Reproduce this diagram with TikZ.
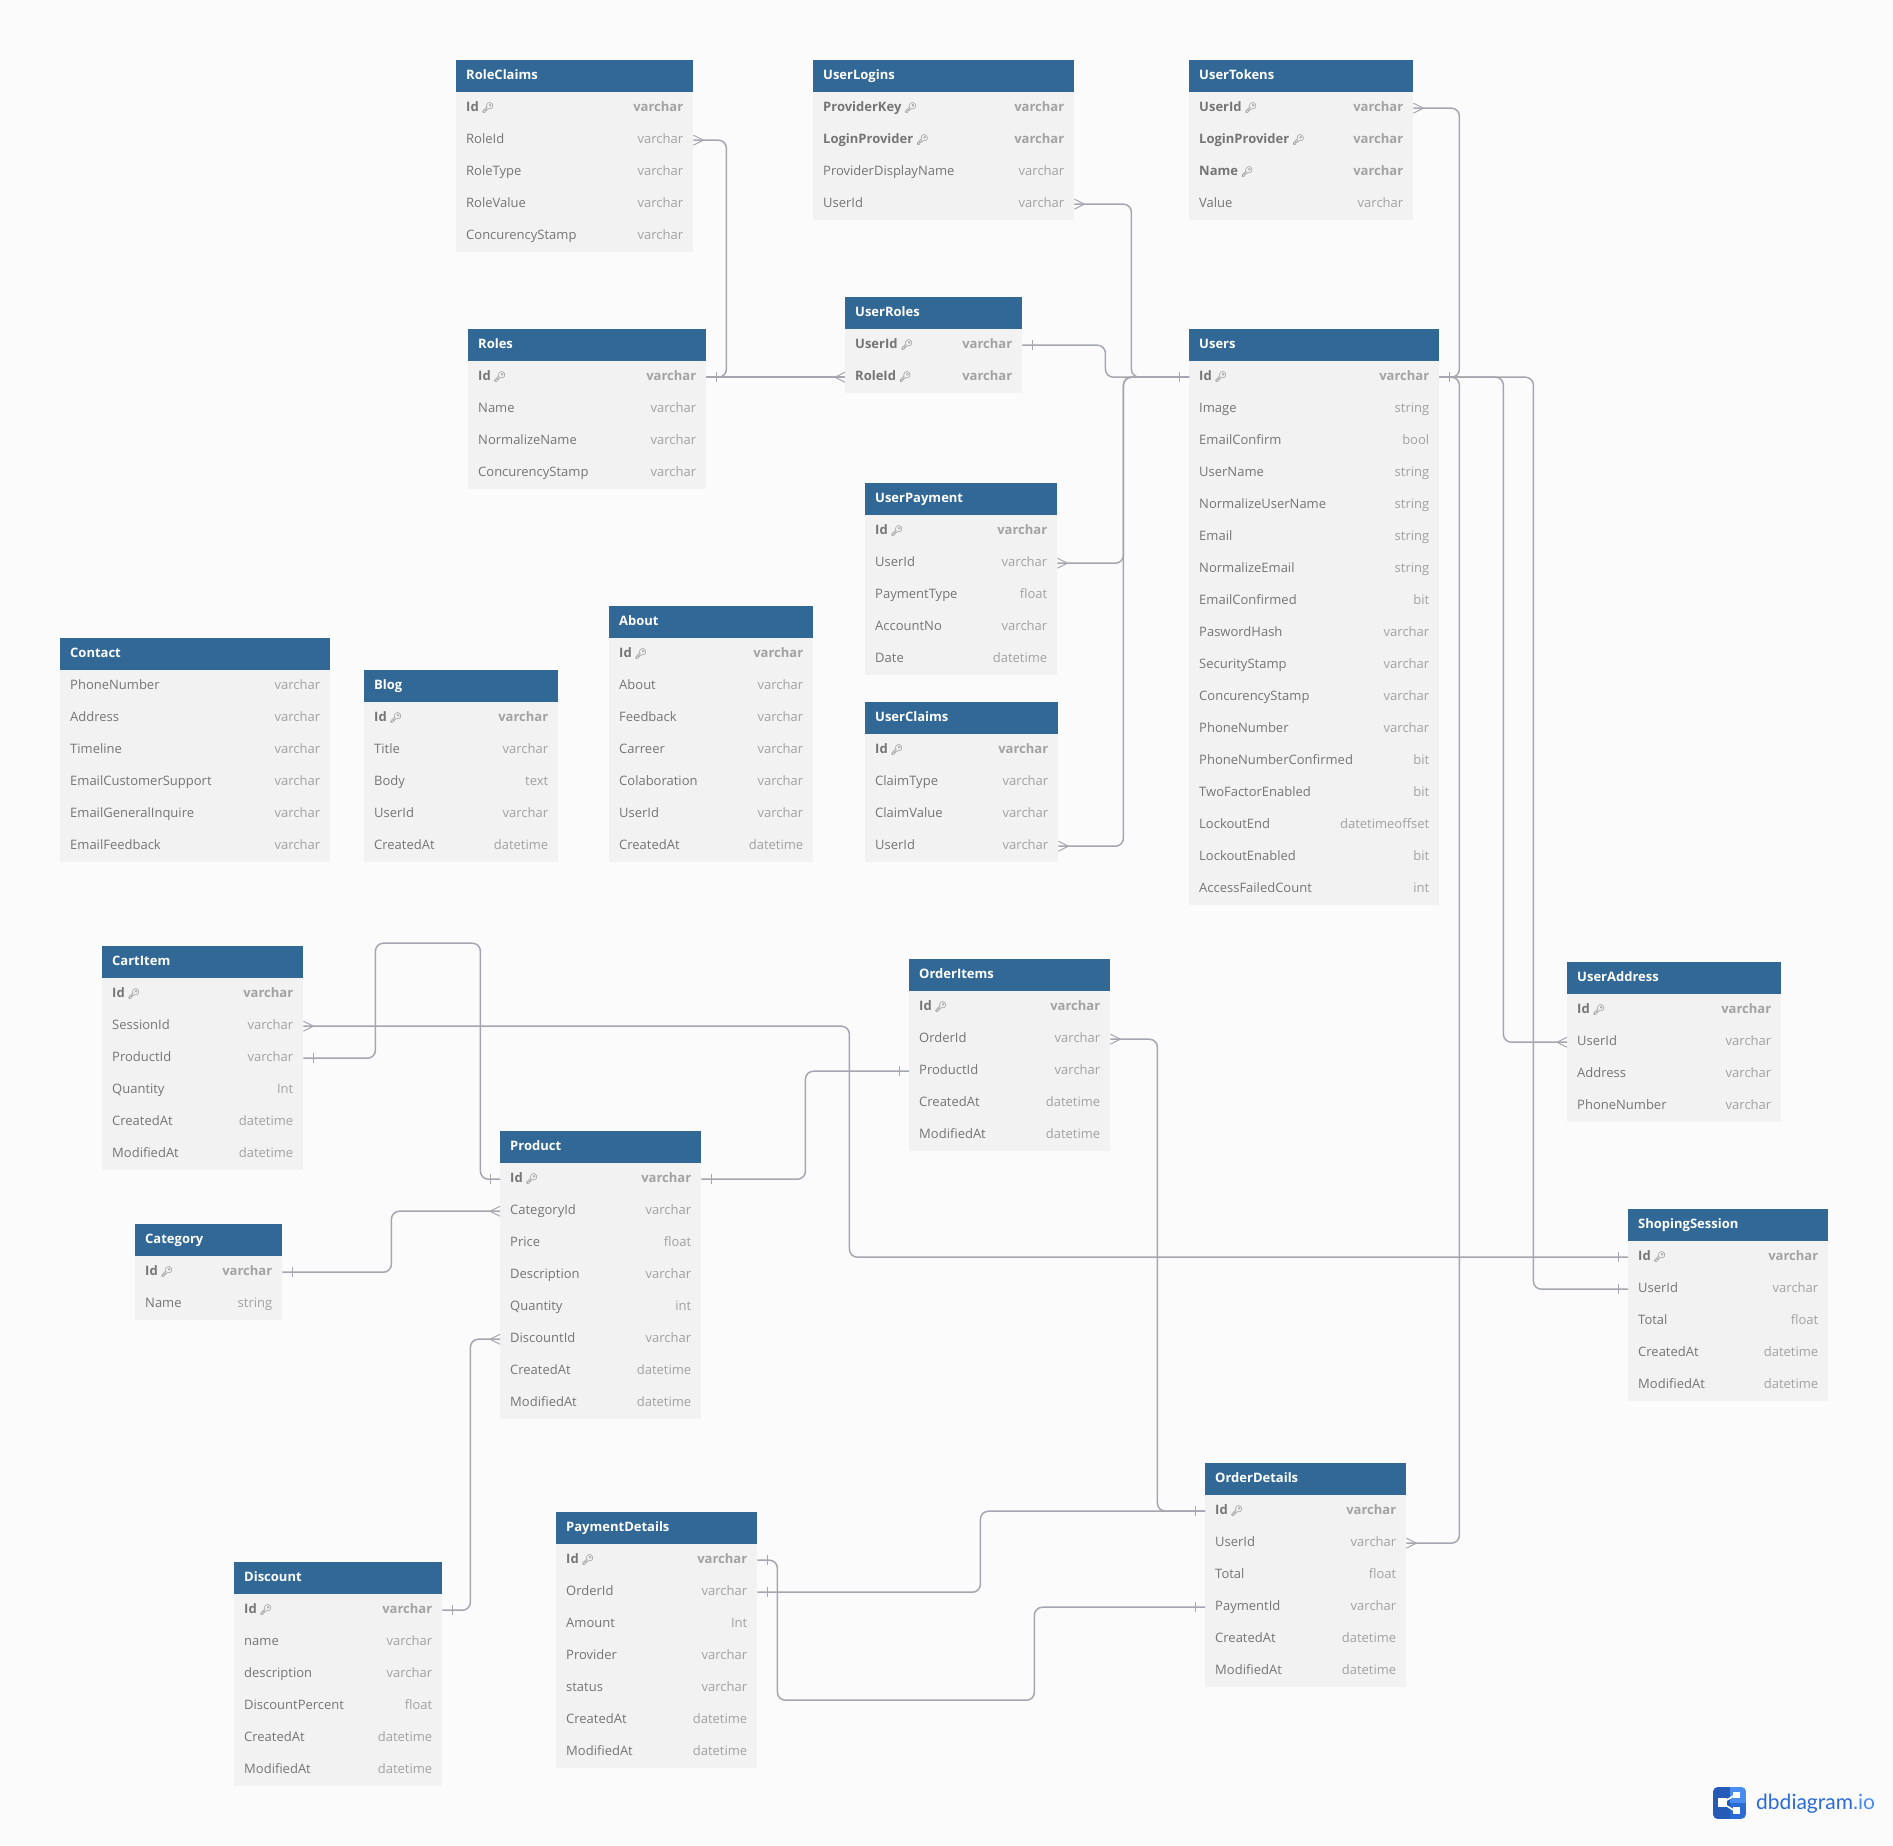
\documentclass[tikz,border=0pt]{standalone}
\usepackage{xcolor}
\usepackage{fontspec}
\setmainfont{Open Sans}
\newfontfamily\emojifont{Noto Emoji}
\newfontfamily\logofont{Lato}
\usetikzlibrary{positioning,decorations.markings}
\definecolor{pagebg}{HTML}{FBFBFC}
\definecolor{headblue}{HTML}{316896}
\definecolor{rowgray}{HTML}{F2F2F2}
\definecolor{namegray}{HTML}{757575}
\definecolor{typegray}{HTML}{A2A2A2}
\definecolor{linkgray}{HTML}{A6A6B0}
\definecolor{logoblue}{HTML}{2C6BD6}
\definecolor{logolight}{HTML}{4A8DF0}
\newcommand{\keyicon}{{\emojifont\fontsize{10}{10}\selectfont\char"1F511}}
% id, x, y, width, title, rows
\newcommand{\dbtable}[6]{
    \node[tablehead, minimum width=#4] (#1-0) at (#2,#3) {};
    \node[tabletitle] (#1-title) at (#1-0.west) {#5};
    \foreach \fname/\ftype/\fkind [count=\i] in {#6} {
        \node[tablerow, minimum width=#4] (#1-\i) at (#2,{#3+32*\i}) {};
        \node[field\fkind] (#1-\i-name) at (#1-\i.west) {\fname};
        \node[type\fkind] (#1-\i-type) at (#1-\i.east) {\ftype};
    }
}
\begin{document}
\begin{tikzpicture}[
    x=1pt, y=-1pt,
    tablehead/.style={rectangle, anchor=north west, fill=headblue, minimum height=32pt, inner sep=0pt},
    tablerow/.style={rectangle, anchor=north west, fill=rowgray, minimum height=32pt, inner sep=0pt},
    tabletitle/.style={anchor=west, xshift=10pt, yshift=0.3pt, inner sep=0pt, text height=10pt, text depth=3pt, text=white, font=\fontsize{13}{13}\selectfont\bfseries},
    fieldbase/.style={anchor=west, xshift=10pt, yshift=0.3pt, inner sep=0pt, text height=10pt, text depth=3pt, text=namegray},
    typebase/.style={anchor=east, xshift=-10pt, yshift=0.3pt, inner sep=0pt, text height=10pt, text depth=3pt, text=typegray},
    fieldno/.style={fieldbase, font=\fontsize{13}{13}\selectfont},
    fieldpk/.style={fieldbase, font=\fontsize{13}{13}\selectfont\bfseries, label={[keymark]east:\keyicon}},
    typeno/.style={typebase, font=\fontsize{13}{13}\selectfont},
    typepk/.style={typebase, font=\fontsize{13}{13}\selectfont\bfseries},
    keymark/.style={inner sep=0pt, xshift=2.5pt, text=namegray!80!black},
    link/.style={draw=linkgray, line width=1.5pt, rounded corners=8pt},
    onestart/.style={postaction={decorate, decoration={markings, mark=at position 10pt with {\draw[linkgray, line width=1pt, sharp corners] (0pt,-5pt) -- (0pt,5pt);}}}},
    oneend/.style={postaction={decorate, decoration={markings, mark=at position -10pt with {\draw[linkgray, line width=1pt, sharp corners] (0pt,-5pt) -- (0pt,5pt);}}}},
    manystart/.style={postaction={decorate, decoration={markings, mark=at position 10pt with {\draw[linkgray, line width=1pt, sharp corners] (-10pt,5pt) -- (0pt,0pt) -- (-10pt,-5pt);}}}},
    manyend/.style={postaction={decorate, decoration={markings, mark=at position -10pt with {\draw[linkgray, line width=1pt, sharp corners] (10pt,5pt) -- (0pt,0pt) -- (10pt,-5pt);}}}}
]
    \fill[pagebg] (0,0) rectangle (1893,1845);

    \dbtable{roleclaims}{456}{60}{237}{RoleClaims}{Id/varchar/pk, RoleId/varchar/no, RoleType/varchar/no, RoleValue/varchar/no, ConcurencyStamp/varchar/no}
    \dbtable{userlogins}{813}{60}{261}{UserLogins}{ProviderKey/varchar/pk, LoginProvider/varchar/pk, ProviderDisplayName/varchar/no, UserId/varchar/no}
    \dbtable{usertokens}{1189}{60}{224}{UserTokens}{UserId/varchar/pk, LoginProvider/varchar/pk, Name/varchar/pk, Value/varchar/no}
    \dbtable{roles}{468}{329}{238}{Roles}{Id/varchar/pk, Name/varchar/no, NormalizeName/varchar/no, ConcurencyStamp/varchar/no}
    \dbtable{userroles}{845}{297}{177}{UserRoles}{UserId/varchar/pk, RoleId/varchar/pk}
    \dbtable{users}{1189}{329}{250}{Users}{Id/varchar/pk, Image/string/no, EmailConfirm/bool/no, UserName/string/no, NormalizeUserName/string/no, Email/string/no, NormalizeEmail/string/no, EmailConfirmed/bit/no, PaswordHash/varchar/no, SecurityStamp/varchar/no, ConcurencyStamp/varchar/no, PhoneNumber/varchar/no, PhoneNumberConfirmed/bit/no, TwoFactorEnabled/bit/no, LockoutEnd/datetimeoffset/no, LockoutEnabled/bit/no, AccessFailedCount/int/no}
    \dbtable{userpayment}{865}{483}{192}{UserPayment}{Id/varchar/pk, UserId/varchar/no, PaymentType/float/no, AccountNo/varchar/no, Date/datetime/no}
    \dbtable{userclaims}{865}{702}{193}{UserClaims}{Id/varchar/pk, ClaimType/varchar/no, ClaimValue/varchar/no, UserId/varchar/no}
    \dbtable{contact}{60}{638}{270}{Contact}{PhoneNumber/varchar/no, Address/varchar/no, Timeline/varchar/no, EmailCustomerSupport/varchar/no, EmailGeneralInquire/varchar/no, EmailFeedback/varchar/no}
    \dbtable{blog}{364}{670}{194}{Blog}{Id/varchar/pk, Title/varchar/no, Body/text/no, UserId/varchar/no, CreatedAt/datetime/no}
    \dbtable{about}{609}{606}{204}{About}{Id/varchar/pk, About/varchar/no, Feedback/varchar/no, Carreer/varchar/no, Colaboration/varchar/no, UserId/varchar/no, CreatedAt/datetime/no}
    \dbtable{cartitem}{102}{946}{201}{CartItem}{Id/varchar/pk, SessionId/varchar/no, ProductId/varchar/no, Quantity/Int/no, CreatedAt/datetime/no, ModifiedAt/datetime/no}
    \dbtable{orderitems}{909}{959}{201}{OrderItems}{Id/varchar/pk, OrderId/varchar/no, ProductId/varchar/no, CreatedAt/datetime/no, ModifiedAt/datetime/no}
    \dbtable{useraddress}{1567}{962}{214}{UserAddress}{Id/varchar/pk, UserId/varchar/no, Address/varchar/no, PhoneNumber/varchar/no}
    \dbtable{product}{500}{1131}{201}{Product}{Id/varchar/pk, CategoryId/varchar/no, Price/float/no, Description/varchar/no, Quantity/int/no, DiscountId/varchar/no, CreatedAt/datetime/no, ModifiedAt/datetime/no}
    \dbtable{category}{135}{1224}{147}{Category}{Id/varchar/pk, Name/string/no}
    \dbtable{shopingsession}{1628}{1209}{200}{ShopingSession}{Id/varchar/pk, UserId/varchar/no, Total/float/no, CreatedAt/datetime/no, ModifiedAt/datetime/no}
    \dbtable{orderdetails}{1205}{1463}{201}{OrderDetails}{Id/varchar/pk, UserId/varchar/no, Total/float/no, PaymentId/varchar/no, CreatedAt/datetime/no, ModifiedAt/datetime/no}
    \dbtable{paymentdetails}{556}{1512}{201}{PaymentDetails}{Id/varchar/pk, OrderId/varchar/no, Amount/Int/no, Provider/varchar/no, status/varchar/no, CreatedAt/datetime/no, ModifiedAt/datetime/no}
    \dbtable{discount}{234}{1562}{208}{Discount}{Id/varchar/pk, name/varchar/no, description/varchar/no, DiscountPercent/float/no, CreatedAt/datetime/no, ModifiedAt/datetime/no}

    \draw[link, manystart, oneend] (roleclaims-2.east) -- ++(33,0) |- (roles-1.east);
    \draw[link, onestart, manyend] (roles-1.east) -- (userroles-2.west);
    \draw[link, onestart, oneend] (userroles-1.east) -- ++(83,0) |- (users-1.west);
    \draw[link, manystart, oneend] (userlogins-4.east) -- ++(57,0) |- (users-1.west);
    \draw[link, manystart, oneend] (usertokens-1.east) -- ++(46,0) |- (users-1.east);
    \draw[link, manystart, oneend] (userpayment-2.east) -- ++(66,0) |- (users-1.west);
    \draw[link, manystart, oneend] (userclaims-4.east) -- ++(65,0) |- (users-1.west);
    \draw[link, onestart, manyend] (users-1.east) -- ++(64,0) |- (useraddress-2.west);
    \draw[link, onestart, oneend] (users-1.east) -- ++(94,0) |- (shopingsession-2.west);
    \draw[link, onestart, manyend] (users-1.east) -- ++(20,0) |- (orderdetails-2.east);
    \draw[link, manystart, oneend] (cartitem-2.east) -- ++(546,0) |- (shopingsession-1.west);
    \draw[link, onestart, oneend] (cartitem-3.east) -- ++(72,0) -- ++(0,-115) -- ++(105,0) |- (product-1.west);
    \draw[link, onestart, oneend] (product-1.east) -- ++(104,0) |- (orderitems-3.west);
    \draw[link, onestart, manyend] (category-1.east) -- ++(109,0) |- (product-2.west);
    \draw[link, onestart, manyend] (discount-1.east) -- ++(28,0) |- (product-6.west);
    \draw[link, manystart, oneend] (orderitems-2.east) -- ++(47,0) |- (orderdetails-1.west);
    \draw[link, onestart, oneend] (paymentdetails-2.east) -- ++(223,0) |- (orderdetails-1.west);
    \draw[link, onestart, oneend] (paymentdetails-1.east) -- ++(20,0) -- ++(0,140) -- ++(257,0) |- (orderdetails-4.west);

    % logo
    \begin{scope}
        \clip[rounded corners=5pt] (1713,1787) rectangle (1746,1819);
        \fill[logoblue] (1713,1787) rectangle (1746,1819);
        \fill[logolight] (1730,1787) rectangle (1746,1803);
        \fill[logoblue!85!black] (1713,1787) rectangle (1730,1819);
    \end{scope}
    \draw[white, line width=1.6pt] (1735,1795) -- (1722,1803) -- (1735,1811);
    \fill[white] (1718,1798) rectangle (1727,1807);
    \fill[white] (1733,1792) rectangle (1740,1798);
    \fill[white] (1733,1807) rectangle (1740,1814);
    \node[anchor=base west, inner sep=0pt, text=logoblue, font=\logofont\fontsize{21}{21}\selectfont] (logotext) at (1756,1809) {dbdiagram\textcolor{logolight}{.io}};
\end{tikzpicture}
\end{document}
